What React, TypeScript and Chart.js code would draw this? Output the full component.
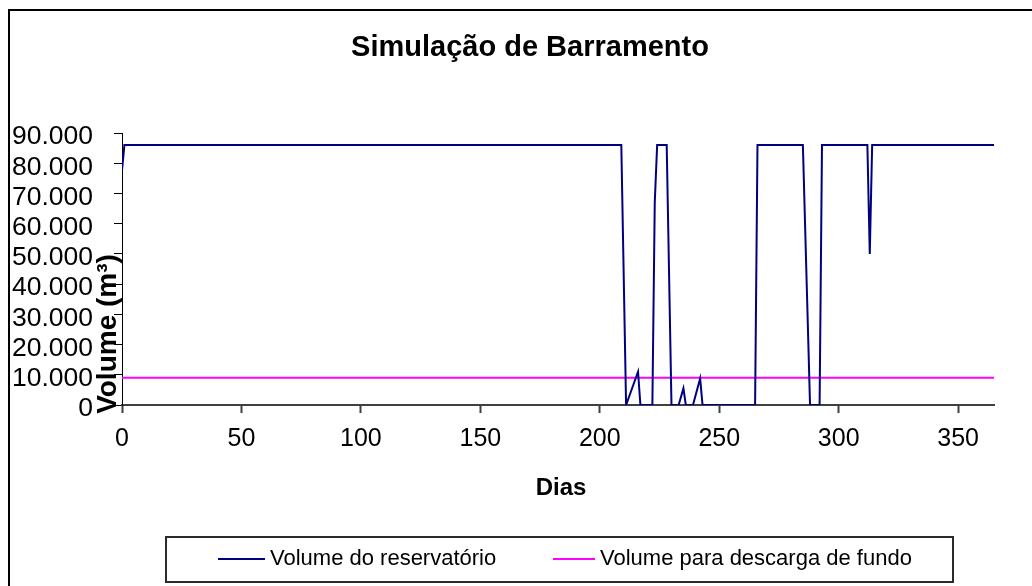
import React, { useEffect, useRef } from "react";
import { Chart, registerables } from "chart.js";

Chart.register(...registerables);

const FONT = '"Liberation Sans", Arial, Helvetica, sans-serif';

// ---- data ----
const chartTitle = "Simulação de Barramento";
const xTitle = "Dias";
const yTitle = "Volume (m³)";
const seriesNames = ["Volume do reservatório", "Volume para descarga de fundo"];
const seriesColors = ["#000080", "#FF00FF"];

// Reservoir volume (m³) at the days where the curve changes direction
const days = [0, 1, 209, 211, 216, 217, 222, 223, 224, 228, 230, 233, 235, 236, 239, 242, 243, 265, 266, 285, 288, 292, 293, 312, 313, 314, 365];
const reservoirVolume = [77600, 86000, 86000, 0, 11000, 0, 0, 67000, 86000, 86000, 0, 0, 5500, 0, 0, 8800, 0, 0, 86000, 86000, 0, 0, 86000, 86000, 50000, 86000, 86000];

// Bottom-discharge volume (constant)
const dischargeDays = [0, 365];
const dischargeVolume = [9000, 9000];

const xMin = 0;
const xMax = 365;
const xStep = 50;
const yMin = 0;
const yMax = 90000;
const yStep = 10000;

const fmt = (v: number) => String(v).replace(/\B(?=(\d{3})+(?!\d))/g, ".");

const decorPlugin = {
  id: "decor",
  afterDraw(chart: any) {
    const ctx = chart.ctx as CanvasRenderingContext2D;
    ctx.save();
    // outer frame (left and top edges visible)
    ctx.strokeStyle = "#000";
    ctx.lineWidth = 2;
    ctx.beginPath();
    ctx.moveTo(9, 586);
    ctx.lineTo(9, 10);
    ctx.lineTo(1032, 10);
    ctx.stroke();

    ctx.fillStyle = "#000";
    ctx.textAlign = "center";
    ctx.textBaseline = "middle";

    // chart title
    ctx.font = `bold 29px ${FONT}`;
    ctx.fillText(chartTitle, 530, 48);

    // x axis title
    ctx.font = `bold 24px ${FONT}`;
    ctx.fillText(xTitle, 561, 488);

    // y axis title (overlapping tick labels as in the reference)
    ctx.save();
    ctx.translate(108, 334);
    ctx.rotate(-Math.PI / 2);
    ctx.font = `bold 28px ${FONT}`;
    ctx.fillText(yTitle, 0, 0);
    ctx.restore();

    // legend box
    ctx.strokeStyle = "#2b2b2b";
    ctx.lineWidth = 2;
    ctx.strokeRect(166, 537, 787, 45);
    const items = [
      { x0: 218, x1: 265, tx: 270 },
      { x0: 553, x1: 595, tx: 600 },
    ];
    chart.data.datasets.forEach((ds: any, i: number) => {
      const it = items[i];
      if (!it) return;
      ctx.strokeStyle = ds.borderColor;
      ctx.lineWidth = 2;
      ctx.beginPath();
      ctx.moveTo(it.x0, 559);
      ctx.lineTo(it.x1, 559);
      ctx.stroke();
      ctx.fillStyle = "#000";
      ctx.font = `22px ${FONT}`;
      ctx.textAlign = "left";
      ctx.textBaseline = "middle";
      ctx.fillText(ds.label, it.tx, 559);
    });
    ctx.restore();
  },
};

export default function App() {
  const ref = useRef<HTMLCanvasElement | null>(null);

  useEffect(() => {
    if (!ref.current) return;
    const chart = new Chart(ref.current, {
      type: "line",
      data: {
        datasets: [
          {
            label: seriesNames[0],
            data: days.map((d, i) => ({ x: d, y: reservoirVolume[i] })),
            borderColor: seriesColors[0],
            backgroundColor: seriesColors[0],
            borderWidth: 2,
            pointRadius: 0,
            tension: 0,
            fill: false,
          },
          {
            label: seriesNames[1],
            data: dischargeDays.map((d, i) => ({ x: d, y: dischargeVolume[i] })),
            borderColor: seriesColors[1],
            backgroundColor: seriesColors[1],
            borderWidth: 2,
            pointRadius: 0,
            tension: 0,
            fill: false,
          },
        ],
      },
      options: {
        animation: false,
        responsive: false,
        layout: { padding: { left: 0, right: 38, top: 133, bottom: 0 } },
        plugins: {
          legend: { display: false },
          tooltip: { enabled: false },
          title: { display: false },
        },
        scales: {
          x: {
            type: "linear",
            min: xMin,
            max: xMax,
            afterFit: (s: any) => {
              s.height = 181;
            },
            ticks: {
              stepSize: xStep,
              includeBounds: false,
              autoSkip: false,
              color: "#000",
              font: { family: FONT, size: 25 },
              padding: 11,
              maxRotation: 0,
            },
            grid: {
              drawOnChartArea: false,
              drawTicks: true,
              tickLength: 8,
              tickColor: "#404040",
              tickWidth: 2,
            },
            border: { color: "#404040", width: 2 },
          },
          y: {
            type: "linear",
            min: yMin,
            max: yMax,
            afterFit: (s: any) => {
              s.width = 122;
            },
            ticks: {
              stepSize: yStep,
              autoSkip: false,
              color: "#000",
              font: { family: FONT, size: 26.5 },
              padding: 21,
              labelOffset: 4,
              callback: (v: any) => fmt(Number(v)),
            },
            grid: {
              drawOnChartArea: false,
              drawTicks: true,
              tickLength: 8,
              tickColor: "#000",
              tickWidth: 1,
            },
            border: { color: "#000", width: 1 },
          },
        },
      },
      plugins: [decorPlugin],
    } as any);
    return () => chart.destroy();
  }, []);

  return (
    <div style={{ position: "fixed", left: 0, top: 0, width: 1032, height: 586, background: "#fff" }}>
      <canvas ref={ref} width={1032} height={586} style={{ display: "block" }} />
    </div>
  );
}
